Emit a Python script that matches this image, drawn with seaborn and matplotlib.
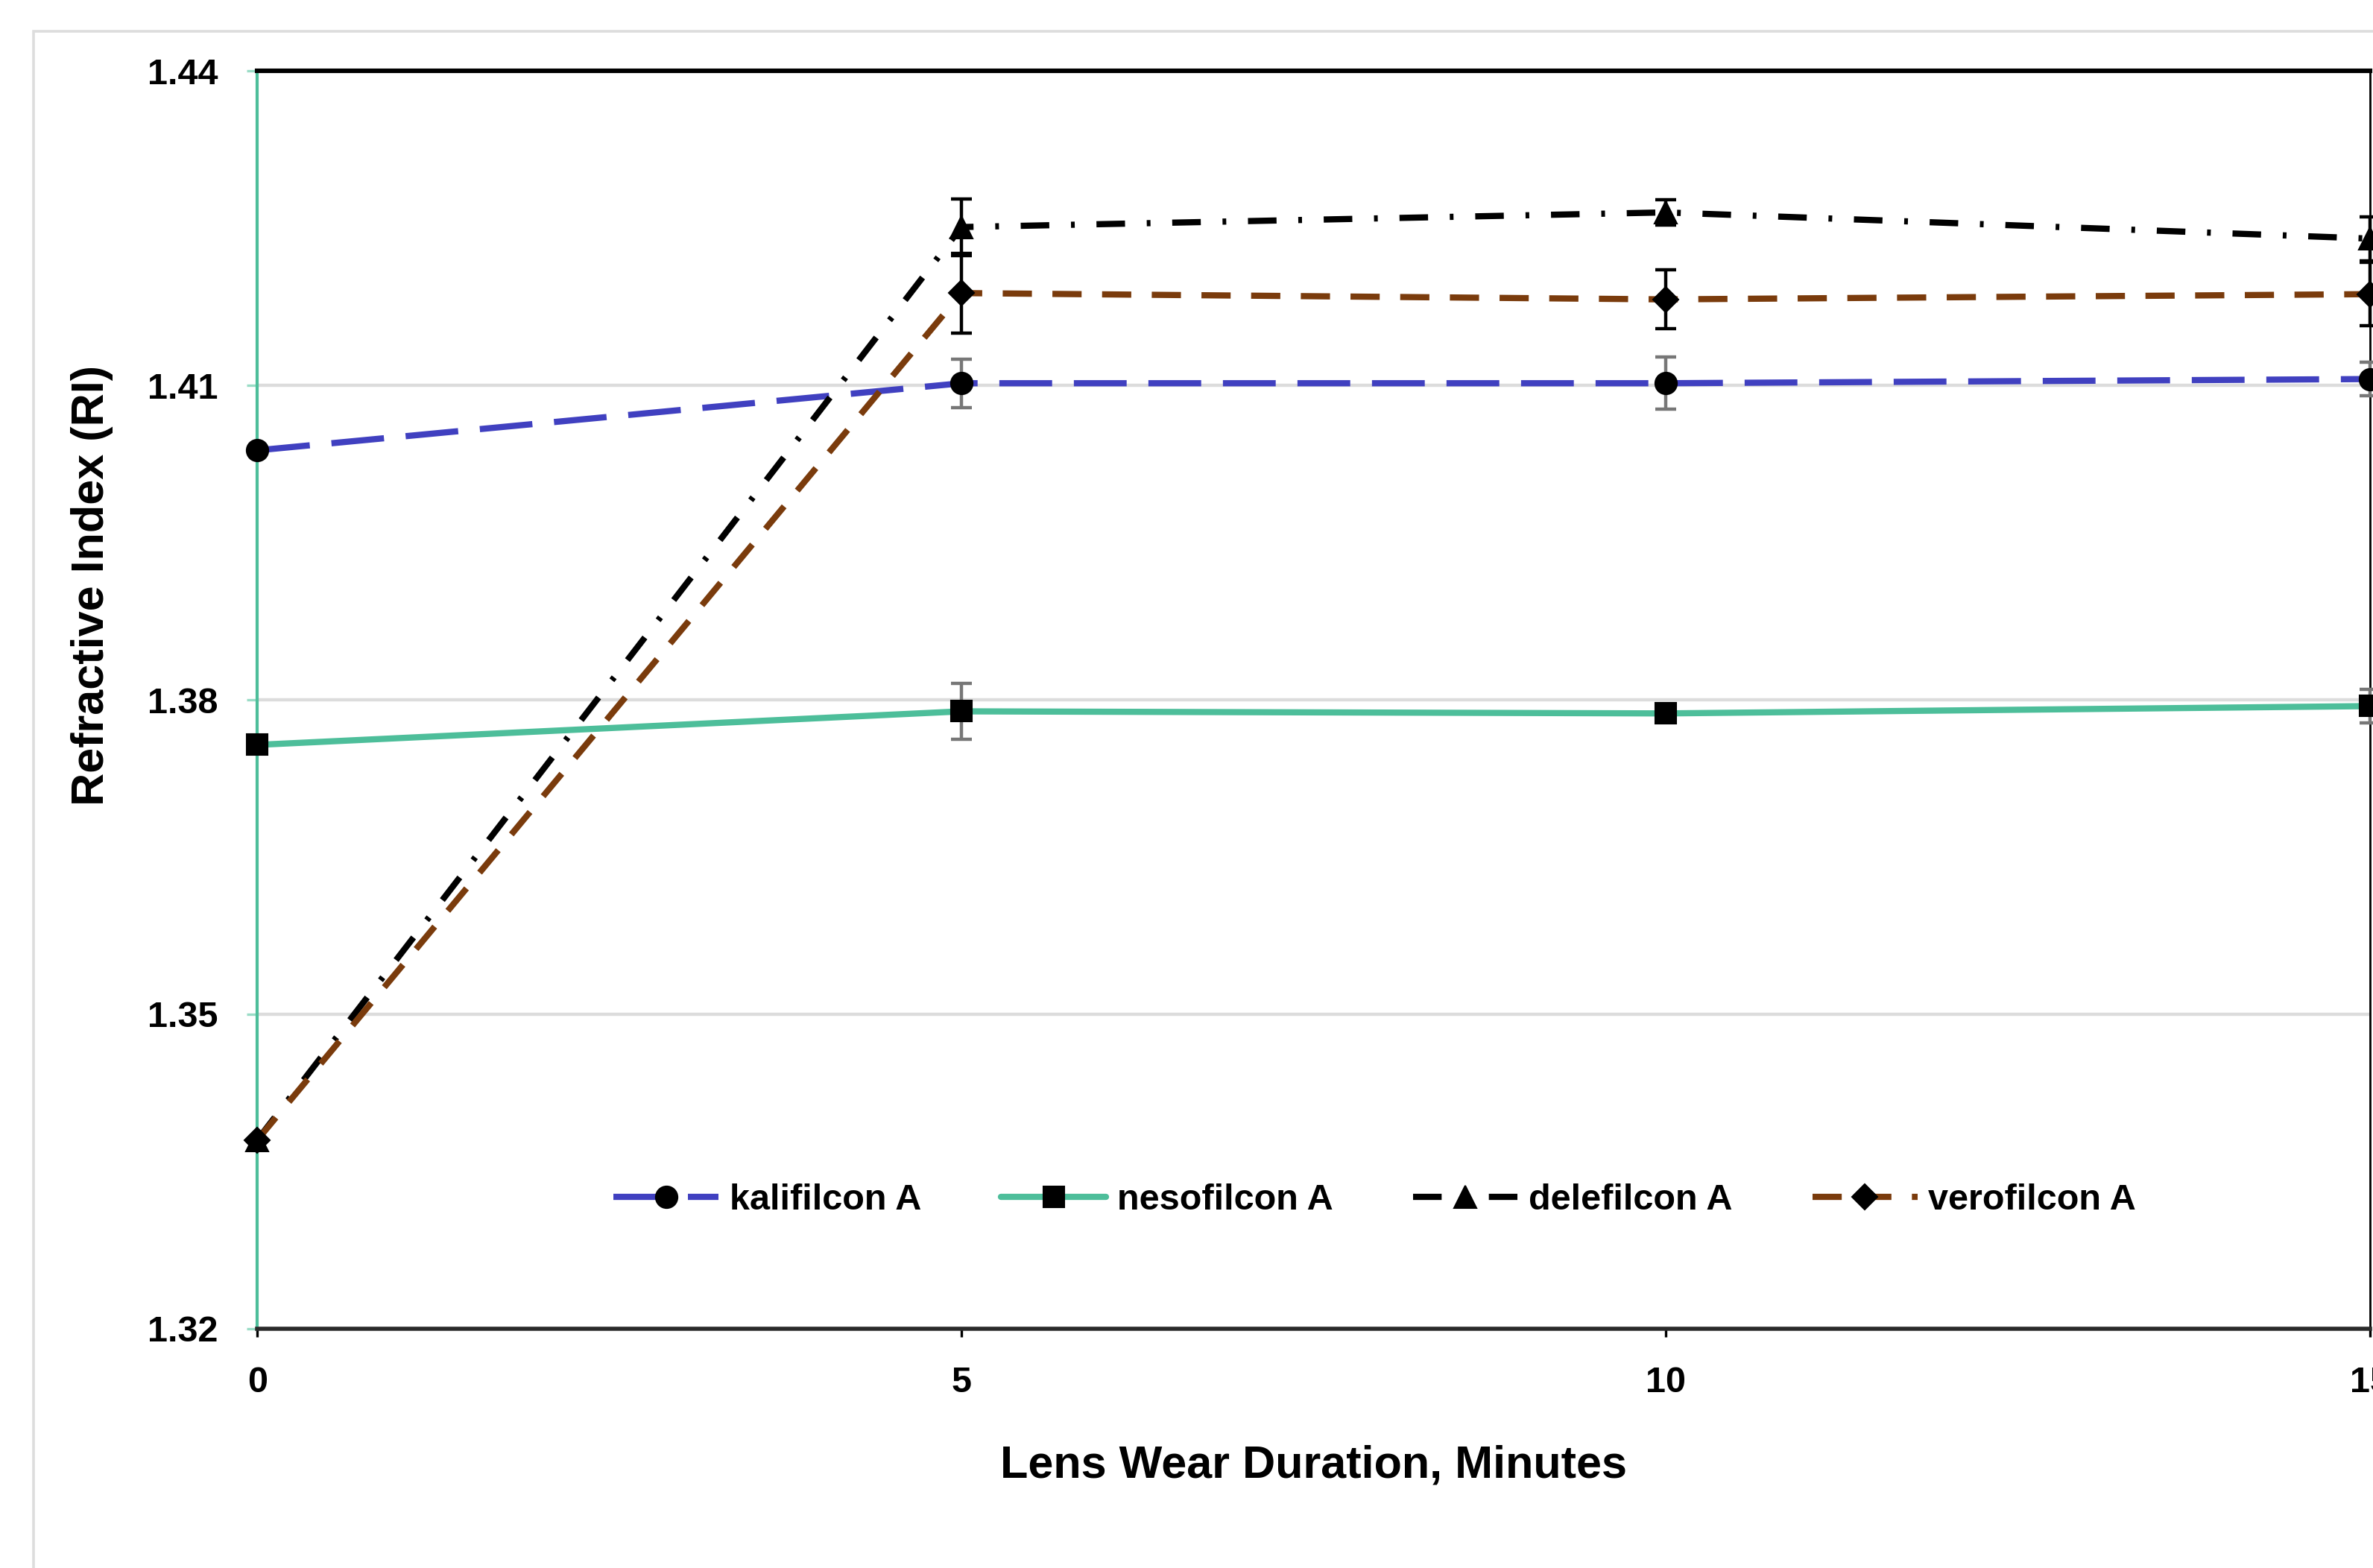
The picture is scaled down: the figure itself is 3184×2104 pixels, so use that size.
import seaborn as sns
import matplotlib.pyplot as plt
from matplotlib.patches import Rectangle

# lens wear duration (minutes)
minutes = [0, 5, 10, 15]

# refractive index per lens
kalifilcon = [1.4038, 1.4102, 1.4102, 1.4106]
nesofilcon = [1.3757, 1.3789, 1.3787, 1.3794]
delefilcon = [1.3380, 1.4251, 1.4265, 1.4240]
verofilcon = [1.3380, 1.4188, 1.4182, 1.4187]

# error bars (SD)
kalifilcon_err = [0, 0.0023, 0.0025, 0.0016]
nesofilcon_err = [0, 0.0027, 0.0004, 0.0016]
delefilcon_err = [0, 0.0027, 0.0012, 0.0021]
verofilcon_err = [0, 0.0038, 0.0028, 0.0030]

sns.set_style("white")
plt.rcParams['font.family'] = ['Liberation Sans', 'DejaVu Sans']
plt.rcParams['font.weight'] = 'bold'
plt.rcParams['text.color'] = 'black'
plt.rcParams['axes.labelcolor'] = 'black'
plt.rcParams['xtick.labelcolor'] = 'black'
plt.rcParams['ytick.labelcolor'] = 'black'

fig = plt.figure(figsize=(15.92, 10.52), dpi=200)
ax = fig.add_axes([0.1084, 0.1526, 0.8903, 0.8022])

# light frame around the chart
fig.add_artist(Rectangle((45 / 3184, -0.05), 1.0, 1.0 - 42 / 2104 + 0.05,
                         transform=fig.transFigure, fill=False,
                         edgecolor='#DDDDDD', lw=1.3))

series = [
    ("kalifilcon A", kalifilcon, kalifilcon_err, '#4040C0', (0, (8.5, 3.5)), 'o', 10.5, '#777777'),
    ("nesofilcon A", nesofilcon, nesofilcon_err, '#4DBE9A', '-', 's', 10, '#777777'),
    ("delefilcon A", delefilcon, delefilcon_err, 'black', (0, (4.6, 3.5, 0.6, 3.5)), '^', 11, 'black'),
    ("verofilcon A", verofilcon, verofilcon_err, '#7A3B0C', (0, (4.7, 3.3)), 'D', 8.5, 'black'),
]

for name, vals, err, col, ls, mk, ms, ecol in series:
    ax.errorbar(minutes, vals, yerr=err, fmt='none', ecolor=ecol,
                elinewidth=1.6, capsize=5, capthick=1.6, zorder=3, clip_on=False)
    sns.lineplot(x=minutes, y=vals, ax=ax, color=col, linestyle=ls, lw=3,
                 marker=mk, markersize=ms, markerfacecolor='black',
                 markeredgecolor='black', label=name, zorder=4, clip_on=False)

ax.set_xlim(0, 15)
ax.set_ylim(1.32, 1.44)
ax.set_xticks([0, 5, 10, 15])
ax.set_yticks([1.32, 1.35, 1.38, 1.41, 1.44])
ax.set_yticklabels(['1.32', '1.35', '1.38', '1.41', '1.44'])
ax.yaxis.grid(True, color='#DCDCDC', lw=1.6)
ax.set_axisbelow(True)

ax.tick_params(axis='x', direction='out', length=4, width=1.2, color='black',
               pad=14, labelsize=17.5, bottom=True)
ax.tick_params(axis='y', direction='out', length=5, width=1.2, color='#9ADCC6',
               pad=14, labelsize=17.5, left=True)
for lab in ax.get_xticklabels() + ax.get_yticklabels():
    lab.set_fontweight('bold')

ax.spines['left'].set_color('#4DBE9A')
ax.spines['left'].set_linewidth(1.5)
ax.spines['top'].set_color('black')
ax.spines['top'].set_linewidth(2.2)
ax.spines['bottom'].set_color('#2A2A2A')
ax.spines['bottom'].set_linewidth(2.0)
ax.spines['right'].set_color('black')
ax.spines['right'].set_linewidth(1.0)

ax.set_xlabel("Lens Wear Duration, Minutes", fontsize=22, fontweight='bold')
ax.set_ylabel("Refractive Index (RI)", fontsize=22, fontweight='bold')
ax.xaxis.set_label_coords(0.5, -0.092)
ax.yaxis.set_label_coords(-0.068, 0.591)

leg = ax.legend(loc='center', bbox_to_anchor=(0.529, 0.102), ncol=4, frameon=False,
                fontsize=17.5, handlelength=2.9, handletextpad=0.3, columnspacing=2.2)
for t in leg.get_texts():
    t.set_fontweight('bold')

fig.savefig("out.png", dpi=200)
